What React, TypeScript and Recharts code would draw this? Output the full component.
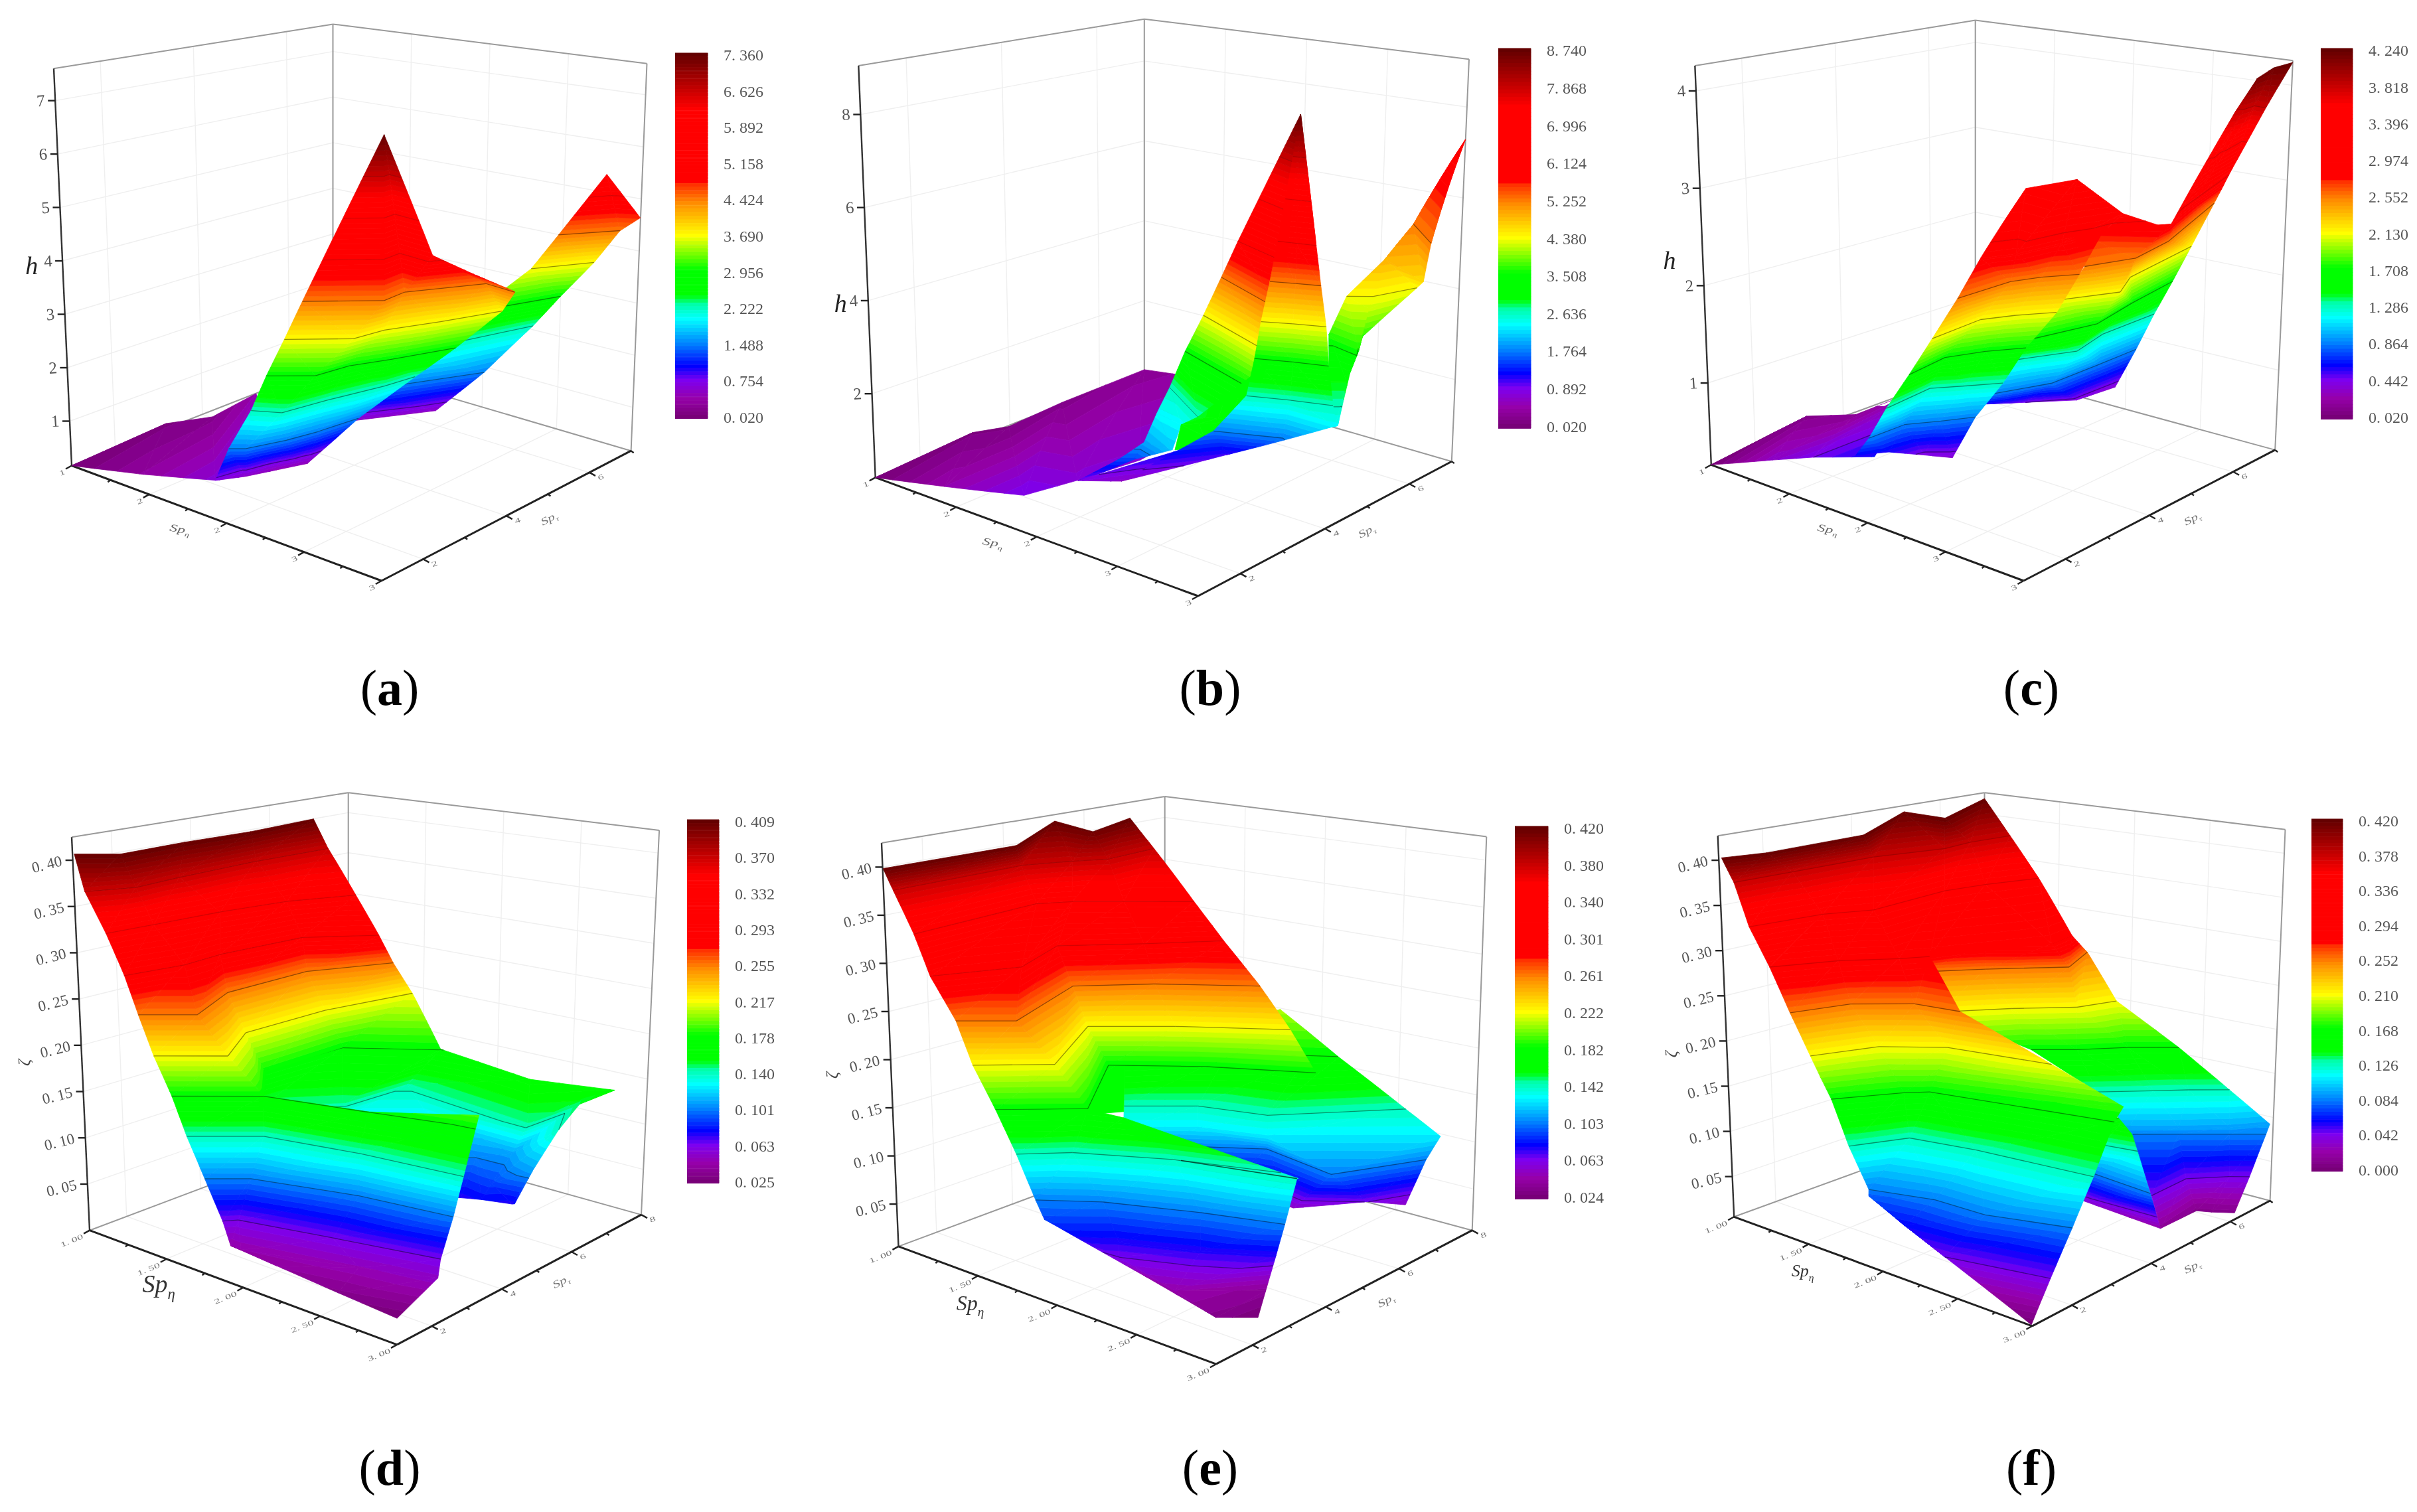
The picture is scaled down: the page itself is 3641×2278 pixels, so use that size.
import React from 'react';
import { ScatterChart, Scatter, XAxis, YAxis, BarChart, Bar, Cell } from 'recharts';

// surface sheets, back to front: rows of [Sp_eta, Sp_tau, value]
const sheetsA = [
  [
    [[0.933,1.23,0.02],[0.92,3.45,0.09],[1.059,4.03,0.17],[1.103,4.88,0.39]],
    [[0.933,1.23,0.02],[1.38,1.3,0.31],[1.817,1.41,0.61],[1.43,3.88,0.75]],
  ],
  [
    [[1.654,4.14,0.53],[2.007,5.88,0.53]],
    [[1.988,4.26,1.49],[2.292,5.99,1.49]],
    [[2.166,4.69,2.22],[2.396,6.74,2.22]],
    [[2.397,5.39,2.96],[2.586,6.69,2.96]],
    [[2.57,6.04,3.69],[2.76,6.82,3.69]],
    [[2.726,6.09,4.42],[2.933,6.77,4.42]],
    [[2.933,6.42,5.6],[3.048,6.82,4.72]],
  ],
  [
    [[1.851,1.29,0.68],[1.857,1.98,0.53],[1.882,2.6,0.46],[1.922,2.94,0.46],[1.942,3.11,0.46]],
    [[2.017,1.03,1.49],[2.077,1.21,1.49],[2.15,1.9,1.49],[2.189,2.47,1.49],[2.222,3.31,1.49]],
    [[2.129,1.16,2.22],[2.256,1.41,2.22],[2.308,2.29,2.22],[2.389,3.3,2.22],[2.42,3.91,2.22]],
    [[2.251,1.09,2.96],[2.423,1.59,2.96],[2.452,2.25,2.96],[2.543,2.87,2.96],[2.683,3.91,2.96]],
    [[2.371,1.08,3.69],[2.609,1.8,3.69],[2.638,2.41,3.69],[2.765,3.25,3.69],[2.897,4.2,3.69]],
    [[2.48,1.11,4.42],[2.764,1.95,4.42],[2.752,2.47,4.42],[2.973,3.55,4.42],[3.17,3.49,4.42]],
    [[2.819,1.76,7.36],[2.819,1.76,7.36],[3.004,2.19,5.3],[3.107,2.82,4.86],[3.243,3.2,4.57]],
  ],
];

const sheetsB = [
  [
    [[0.931,1.24,0.02],[0.905,3.51,0.11],[0.975,4.06,0.11],[0.976,5.25,0.19],[1.003,6.99,0.28],[1.236,7.05,0.37]],
    [[0.931,1.24,0.02],[1.399,1.12,0.46],[1.901,1.09,0.89],[1.901,2.31,0.72],[1.96,3.52,0.72],[1.968,4.08,0.8]],
  ],
  [
    [[3.039,3.89,2.37],[3.063,3.95,2.37],[3.064,4.01,2.37]],
    [[2.9,4.4,2.98],[2.969,4.55,2.98],[2.982,4.58,3.16]],
    [[2.775,4.84,3.68],[3.01,4.66,3.6],[2.928,5.05,3.68]],
    [[2.791,5.17,4.38],[2.927,5.2,4.21],[2.988,6.06,4.38]],
    [[2.809,5.96,4.9],[2.809,5.96,4.9],[3.072,5.89,4.64]],
    [[2.716,6.93,5.25],[2.716,6.93,5.25],[2.998,6.31,5.25]],
    [[2.44,9.03,6.3],[2.44,9.03,6.3],[2.44,9.03,6.3]],
  ],
  [
    [[1.969,2.07,0.89],[1.988,2.23,0.89]],
    [[2.181,2.23,1.5],[2.235,2.38,1.5]],
    [[2.307,2.35,1.94],[2.538,2.14,2.11]],
    [[2.281,2.74,2.37],[2.469,2.6,2.37]],
    [[2.214,3.28,2.64],[2.574,2.6,2.64]],
  ],
  [
    [[2.214,3.28,2.64],[2.574,2.6,2.64]],
    [[2.319,3.24,3.51],[2.92,2.58,3.51]],
    [[2.439,3.21,4.38],[3.05,2.49,4.38]],
    [[2.542,3.23,5.25],[3.07,2.57,5.25]],
    [[2.668,3.13,6.12],[3.07,2.73,6.12]],
    [[2.9,3.64,8.74],[2.9,3.64,8.74]],
  ],
  [
    [[2.905,0.82,2.98],[3.13,1.13,3.16]],
    [[2.723,1.65,2.98],[3.08,1.86,3.33]],
    [[2.683,2.19,2.9],[2.66,3.87,3.33]],
  ],
  [
    [[1.935,2.19,0.8],[2.029,2.84,0.63]],
    [[2.278,3.69,1.33],[2.326,3.81,1.24]],
  ],
  [
    [[2.029,2.84,0.63],[2.369,4.01,1.07],[3.059,4,2.37]],
    [[2.393,3.62,1.76],[2.714,4.04,1.76],[3.057,4,2.37]],
    [[2.571,3.72,2.64],[2.773,3.98,2.64],[2.984,4.19,2.64]],
    [[2.64,3.64,3.51],[2.815,3.87,3.51],[2.99,4.05,3.51]],
    [[2.712,3.51,4.38],[2.851,3.72,4.38],[3.006,3.91,4.38]],
    [[2.763,3.51,5.25],[2.88,3.66,5.25],[2.998,3.8,5.25]],
    [[2.813,3.49,6.12],[2.906,3.57,6.12],[3.002,3.66,6.12]],
    [[2.9,3.64,8.74],[2.9,3.64,8.74],[2.9,3.64,8.74]],
  ],
];

const sheetsC = [
  [
    [[0.88,1.41,0.02],[0.818,3.8,0.1],[1.016,4.23,0.15],[1.07,5.47,0.23]],
    [[0.88,1.41,0.02],[1.294,1.36,0.32],[1.508,1.53,0.44],[1.86,1.69,0.61]],
  ],
  [
    [[1.754,4.62,0.57],[1.779,5.47,0.44],[1.921,6.14,0.4],[1.918,7.04,0.36]],
    [[1.945,4.12,0.86],[2.067,5.03,0.86],[2.073,6.12,0.86],[2.072,6.96,0.86]],
    [[2.093,4.11,1.29],[2.243,4.98,1.29],[2.175,5.81,1.29],[2.175,7,1.29]],
    [[2.353,3.59,1.71],[2.449,4.7,1.71],[2.374,5.78,1.71],[2.31,6.92,1.71]],
    [[2.484,3.75,2.13],[2.63,4.56,2.13],[2.516,5.2,2.13],[2.424,6.92,2.13]],
    [[2.661,3.62,2.55],[2.768,4.39,2.55],[2.716,5.33,2.55],[2.463,7.27,2.55]],
    [[2.5,3.92,2.81],[2.901,4.71,2.89],[2.854,5.16,2.97],[2.694,6.82,3.06]],
    [[2.901,4.71,2.89],[2.854,5.16,2.97],[2.78,5.8,3.02],[2.694,6.82,3.06]],
    [[2.869,6.24,3.82],[2.891,6.34,3.82],[2.889,6.58,3.82],[2.965,6.56,3.82]],
    [[2.967,6.33,4.16],[2.967,6.33,4.16],[2.94,6.79,4.2],[3,7,4.24]],
  ],
  [
    [[1.782,1.54,0.61],[1.835,2.11,0.57],[1.842,2.9,0.4],[1.933,3.22,0.36]],
    [[1.901,1.42,0.86],[1.905,2.22,0.86],[2.001,2.69,0.86],[2.092,3.18,0.86]],
    [[2.081,1.19,1.29],[2.051,2.29,1.29],[2.154,2.73,1.29],[2.266,3.2,1.29]],
    [[2.247,1.12,1.71],[2.213,2.06,1.71],[2.298,2.68,1.71],[2.414,3.19,1.71]],
    [[2.399,1.1,2.13],[2.385,2.25,2.13],[2.471,2.75,2.13],[2.592,3.24,2.13]],
    [[2.525,1.22,2.55],[2.543,2.37,2.55],[2.61,2.82,2.55],[2.721,3.28,2.55]],
    [[2.554,1.64,2.89],[2.635,2.15,2.89],[2.689,2.99,2.89],[2.727,3.77,2.89]],
    [[2.369,3.33,3.27],[2.604,3.63,3.4],[2.78,4.04,3.06],[2.937,4.52,2.89]],
  ],
];

const sheetsD = [
  [
    [[1.651,2.97,0.179],[1.687,5.1,0.179],[2.084,6.09,0.179],[2.651,6.18,0.167],[3.046,6.88,0.159]],
    [[1.693,2.81,0.144],[1.957,3.95,0.144],[2,5.54,0.144],[2.875,5.18,0.144],[2.932,6.53,0.152]],
    [[1.862,3.96,0.133],[1.941,4.46,0.129],[2.196,5.21,0.129],[2.779,5.18,0.109],[3.02,5.43,0.14]],
    [[2.505,4.63,0.102],[2.546,4.75,0.102],[2.607,4.91,0.102],[2.799,4.53,0.09],[3.015,4.75,0.109]],
    [[2.658,4.14,0.075],[2.678,4.19,0.075],[2.81,4.21,0.079],[2.939,4.52,0.075],[2.98,4.41,0.079]],
  ],
  [
    [[1.038,0.89,0.409],[1.165,1.54,0.409],[1.158,3.2,0.409],[1.181,4.8,0.409],[1.153,6.51,0.409]],
    [[1.09,0.9,0.371],[1.175,1.86,0.371],[1.152,3.07,0.371],[1.135,5.11,0.371],[1.159,6.85,0.371]],
    [[1.228,0.84,0.332],[1.252,1.97,0.332],[1.282,3.57,0.332],[1.348,5.02,0.332],[1.498,6.21,0.332]],
    [[1.352,0.76,0.294],[1.406,2.1,0.294],[1.386,3.12,0.294],[1.436,5.06,0.294],[1.686,6.05,0.294]],
    [[1.425,0.79,0.255],[1.612,1.56,0.255],[1.449,3.04,0.255],[1.456,5.1,0.255],[1.663,6.53,0.255]],
    [[1.518,0.77,0.217],[1.761,1.72,0.217],[1.566,3.01,0.217],[1.584,5.04,0.217],[1.705,6.87,0.217]],
    [[1.607,0.84,0.179],[1.918,2,0.179],[1.684,3.03,0.179],[1.687,5.1,0.179],[2.084,6.09,0.179]],
  ],
  [
    [[1.607,0.84,0.179],[1.918,2,0.179],[2.452,2.59,0.179],[3.006,3.25,0.19]],
    [[1.687,0.88,0.14],[1.949,1.85,0.14],[2.448,2.32,0.14],[3.053,2.63,0.14]],
    [[1.792,0.89,0.102],[1.951,1.48,0.102],[2.489,2.14,0.102],[3.029,2.46,0.102]],
    [[1.895,0.92,0.063],[1.941,1.15,0.063],[2.432,1.67,0.063],[3.01,2.19,0.063]],
    [[1.969,0.81,0.044],[2.04,0.79,0.044],[2.642,1.48,0.048],[3.058,1.91,0.052]],
    [[1.969,0.81,0.044],[2.263,0.82,0.04],[2.643,0.89,0.033],[2.996,1.02,0.025]],
  ],
];

const sheetsE = [
  [
    [[1.857,7.5,0.21],[1.857,7.5,0.21],[1.857,7.5,0.21],[1.857,7.5,0.21]],
    [[1.565,4.66,0.182],[1.889,5.98,0.182],[2.211,6.79,0.182],[2.342,7.05,0.182]],
    [[1.663,4.24,0.143],[1.93,5.07,0.143],[2.281,5.43,0.143],[2.768,7.06,0.143]],
    [[1.732,3.94,0.127],[1.999,4.78,0.127],[2.339,5.19,0.127],[3.031,6.91,0.127]],
    [[1.769,4.45,0.103],[2.247,5.58,0.103],[2.726,5.28,0.103],[2.978,6.76,0.103]],
    [[2.06,5.27,0.064],[2.441,5.47,0.052],[2.778,6.04,0.064],[2.864,6.72,0.052]],
  ],
  [
    [[1.296,3.31,0.177],[1.52,4.85,0.177]],
    [[1.8,1.19,0.177],[2.045,2.65,0.177]],
  ],
  [
    [[1.304,-0.22,0.42],[1.334,2.97,0.42],[1.037,5.13,0.42],[1.281,5.09,0.416],[1.224,6.24,0.42]],
    [[1.087,0.89,0.38],[1.081,4.1,0.38],[1.173,5.01,0.38],[1.254,5.57,0.38],[1.232,6.81,0.38]],
    [[1.209,0.86,0.341],[1.156,4.16,0.341],[1.239,4.73,0.341],[1.408,5.33,0.341],[1.653,6.1,0.341]],
    [[1.296,0.88,0.301],[1.458,2.52,0.301],[1.301,4.07,0.301],[1.564,5.2,0.301],[1.809,6.23,0.301]],
    [[1.431,0.93,0.262],[1.617,1.7,0.262],[1.394,4.06,0.262],[1.648,5.12,0.262],[2.057,6.14,0.262]],
    [[1.535,0.9,0.222],[1.787,1.96,0.222],[1.484,4.07,0.222],[1.787,5.07,0.222],[2.253,6.13,0.222]],
    [[1.655,0.96,0.182],[1.949,2.12,0.182],[1.574,4.22,0.182],[1.934,5.25,0.182],[2.419,6.13,0.182]],
  ],
  [
    [[1.655,0.96,0.182],[1.949,2.12,0.182],[2.114,2.36,0.178],[2.941,3.47,0.139]],
    [[1.763,1.01,0.143],[1.934,1.76,0.143],[2.355,2.68,0.143],[2.972,3.31,0.143]],
    [[1.877,1.01,0.103],[2.124,1.75,0.103],[2.559,2.49,0.103],[2.969,3,0.103]],
    [[1.965,0.86,0.091],[2.278,1.5,0.075],[2.639,2.15,0.075],[2.952,2.84,0.075]],
    [[1.965,0.86,0.091],[2.299,1.4,0.064],[2.605,1.6,0.044],[2.878,2.88,0.036]],
    [[1.965,0.86,0.091],[2.379,1.74,0.044],[2.862,1.6,0.032],[2.957,2.33,0.024]],
  ],
];

const sheetsF = [
  [
    [[2.887,3.03,0.168],[2.931,3.61,0.168]],
    [[2.736,3.71,0.126],[2.943,3.83,0.126]],
    [[2.58,3.98,0.084],[3.025,3.86,0.084]],
    [[2.373,4.49,0.034],[2.871,4.71,0.021]],
  ],
  [
    [[1.567,3.28,0.294],[1.712,4.56,0.294],[1.968,5.21,0.294],[1.933,5.81,0.294]],
    [[1.37,4.32,0.252],[1.565,5.08,0.252],[1.869,5.98,0.252],[1.739,6.86,0.252]],
    [[1.482,4.3,0.21],[1.709,5.17,0.21],[1.959,5.86,0.21],[2.047,6.49,0.21]],
    [[1.849,5.16,0.168],[2.035,5.6,0.168],[2.225,6.15,0.168],[2.446,6.6,0.168]],
    [[2.187,5.56,0.126],[2.413,6.12,0.126],[2.56,6.46,0.126],[2.743,6.81,0.126]],
    [[2.386,5.61,0.092],[2.607,6.07,0.092],[2.826,6.54,0.092],[2.98,6.99,0.092]],
    [[2.398,5.69,0.084],[2.598,6.11,0.084],[2.826,6.55,0.084],[2.994,6.85,0.084]],
    [[2.708,5.06,0.042],[2.706,5.93,0.042],[2.88,6.38,0.042],[2.973,6.55,0.042]],
    [[2.806,4.95,0.013],[2.772,5.97,0.008],[2.851,6.06,0.008],[2.962,6.24,0.008]],
  ],
  [
    [[1.253,0.18,0.42],[1.303,1.03,0.42],[1.306,3.21,0.42],[1.005,5.17,0.42],[1.272,5.18,0.42],[1.009,6.97,0.42]],
    [[1.074,1.06,0.378],[1.082,2.36,0.378],[1.092,4.17,0.378],[1.187,5.46,0.378],[1.161,6.13,0.378],[1.189,6.94,0.378]],
    [[1.202,0.92,0.336],[1.25,2.44,0.336],[1.355,3.24,0.336],[1.31,5.03,0.336],[1.357,5.8,0.336],[1.458,6.68,0.336]],
    [[1.283,1.07,0.294],[1.42,2.17,0.294],[1.598,2.95,0.294],[1.678,3.38,0.294],[1.968,5.21,0.294],[1.933,5.81,0.294]],
  ],
  [
    [[1.283,1.07,0.294],[1.42,2.17,0.294],[1.598,2.95,0.294],[1.678,3.38,0.294]],
    [[1.429,0.99,0.252],[1.524,2.07,0.252],[1.744,2.78,0.252],[2,2.94,0.252]],
    [[1.54,1.04,0.21],[1.67,2.19,0.21],[1.925,2.9,0.21],[2.506,3.3,0.21]],
    [[1.595,1.07,0.189],[1.754,2.17,0.189],[1.925,2.68,0.189],[2.904,3.6,0.176]],
    [[1.651,1.11,0.168],[1.838,2.16,0.168],[1.924,2.47,0.168],[2.94,3.25,0.168]],
    [[1.784,1.02,0.126],[1.922,1.98,0.126],[2.286,2.27,0.126],[2.99,2.56,0.126]],
    [[1.888,1.1,0.084],[2.221,1.49,0.084],[2.542,1.54,0.084],[2.995,2.02,0.084]],
    [[1.875,1.14,0.076],[2.12,1.1,0.059],[2.4,1.06,0.042],[2.984,1.52,0.042]],
    [[1.875,1.14,0.076],[2.12,1.1,0.059],[2.4,1.06,0.042],[2.946,1.18,0]],
  ],
];

// colour bar labels, bottom to top
const scaleA = [0.02, 0.754, 1.488, 2.222, 2.956, 3.69, 4.424, 5.158, 5.892, 6.626, 7.36];
const scaleB = [0.02, 0.892, 1.764, 2.636, 3.508, 4.38, 5.252, 6.124, 6.996, 7.868, 8.74];
const scaleC = [0.02, 0.442, 0.864, 1.286, 1.708, 2.13, 2.552, 2.974, 3.396, 3.818, 4.24];
const scaleD = [0.025, 0.063, 0.101, 0.14, 0.178, 0.217, 0.255, 0.293, 0.332, 0.37, 0.409];
const scaleE = [0.024, 0.063, 0.103, 0.142, 0.182, 0.222, 0.261, 0.301, 0.34, 0.38, 0.42];
const scaleF = [0, 0.042, 0.084, 0.126, 0.168, 0.21, 0.252, 0.294, 0.336, 0.378, 0.42];

const heightTicksA = [1, 2, 3, 4, 5, 6, 7];
const heightTicksB = [2, 4, 6, 8];
const heightTicksC = [1, 2, 3, 4];
const ratioTicks = [0.05, 0.1, 0.15, 0.2, 0.25, 0.3, 0.35, 0.4];

const etaTicks = [1, 1.5, 2, 2.5, 3];
const etaMinor = [1.25, 1.75, 2.25, 2.75];
const tauTicks = [2, 4, 6, 8];
const tauMinor = [3, 5, 7];

const captions = ['a', 'b', 'c', 'd', 'e', 'f'];

const FONT = '"Liberation Serif", serif';

// colour ramp of the bars: [level, r, g, b]
const ramp = [
  [0, 120, 0, 120], [0.05, 150, 0, 170], [0.1, 125, 0, 240], [0.14, 0, 0, 255], [0.2, 0, 128, 255],
  [0.27, 0, 255, 255], [0.31, 0, 255, 170], [0.335, 0, 255, 0], [0.405, 0, 255, 0], [0.5, 255, 255, 0],
  [0.59, 255, 140, 0], [0.64, 255, 50, 0], [0.65, 255, 0, 0], [0.85, 255, 0, 0], [0.92, 180, 0, 0], [1, 100, 0, 0],
];

function rampColor(t: number) {
  for (let i = 1; i < ramp.length; i++) {
    if (t <= ramp[i][0]) {
      const a = ramp[i - 1], b = ramp[i];
      const f = (t - a[0]) / (b[0] - a[0]);
      return `rgb(${[1, 2, 3].map((c) => Math.round(a[c] + (b[c] - a[c]) * f)).join(',')})`;
    }
  }
  return 'rgb(100,0,0)';
}

const panels = [
  { id: 0, left: 0, top: 0, w: 1210, sx: 1.296, L: [140, 1100], F: [745, 1372], R: [1232, 1065], B: [650, 858], Lt: [105, 162], Bt: [650, 57], Rt: [1263, 150], lo: 0.167, hi: 7.6, tauMax: 7, sheets: sheetsA, scale: scaleA, zTicks: heightTicksA, z2: false, bar: [1017, 80, 1066, 631], etaTitle: [350, 1258], tauTitle: [1075, 1232], zTitle: [62, 632], etaSize: 24 },
  { id: 1, left: 1230, top: 0, w: 1210, sx: 1.296, L: [115, 1128], F: [745, 1408], R: [1240, 1090], B: [640, 880], Lt: [82, 155], Bt: [640, 45], Rt: [1274, 140], lo: 0.2, hi: 9.05, tauMax: 7, sheets: sheetsB, scale: scaleB, zTicks: heightTicksB, z2: false, bar: [2257, 73, 2306, 645], etaTitle: [343, 1290], tauTitle: [1077, 1262], zTitle: [47, 722], etaSize: 24 },
  { id: 2, left: 2440, top: 0, w: 1200, sx: 1.3067, L: [180, 1098], F: [795, 1372], R: [1290, 1063], B: [700, 870], Lt: [148, 155], Bt: [700, 48], Rt: [1325, 143], lo: 0.16, hi: 4.26, tauMax: 7, sheets: sheetsC, scale: scaleC, zTicks: heightTicksC, z2: false, bar: [3496, 73, 3544, 631], etaTitle: [408, 1258], tauTitle: [1130, 1232], zTitle: [98, 620], etaSize: 24 },
  { id: 3, left: 0, top: 1170, w: 1210, sx: 1.296, L: [175, 1072], F: [775, 1342], R: [1252, 1035], B: [680, 842], Lt: [140, 143], Bt: [680, 38], Rt: [1287, 127], lo: 0, hi: 0.425, tauMax: 8, sheets: sheetsD, scale: scaleD, zTicks: ratioTicks, z2: true, bar: [1035, 1235, 1083, 1783], etaTitle: [310, 1218], tauTitle: [1098, 1200], zTitle: [58, 660], etaSize: 38 },
  { id: 4, left: 1230, top: 1170, w: 1210, sx: 1.296, L: [160, 1110], F: [780, 1388], R: [1280, 1072], B: [680, 876], Lt: [127, 157], Bt: [680, 47], Rt: [1308, 142], lo: 0.006, hi: 0.425, tauMax: 8, sheets: sheetsE, scale: scaleE, zTicks: ratioTicks, z2: true, bar: [2282, 1245, 2332, 1806], etaTitle: [300, 1260], tauTitle: [1115, 1245], zTitle: [42, 690], etaSize: 32 },
  { id: 5, left: 2440, top: 1170, w: 1200, sx: 1.3067, L: [225, 1040], F: [812, 1298], R: [1280, 1002], B: [718, 825], Lt: [193, 140], Bt: [718, 38], Rt: [1310, 125], lo: 0.0055, hi: 0.427, tauMax: 7, sheets: sheetsF, scale: scaleF, zTicks: ratioTicks, z2: true, bar: [3482, 1234, 3529, 1765], etaTitle: [360, 1180], tauTitle: [1130, 1165], zTitle: [112, 640], etaSize: 26 },
];

const SY = 1.568;
type Panel = (typeof panels)[number];
type Item = { pts: number[][]; fill?: string; stroke?: string; width?: number };

const mix = (a: number[], b: number[], t: number) => [a[0] + (b[0] - a[0]) * t, a[1] + (b[1] - a[1]) * t];

// 3D -> 2D through the corners of the box, in the panel's own pixels
function project(p: Panel, eta: number, tau: number, val: number) {
  const u = (eta - 1) / 2;
  const v = (tau - 1) / (p.tauMax - 1);
  const w = (val - p.lo) / (p.hi - p.lo);
  const off = (a: number[], b: number[]) => [a[0] - b[0], a[1] - b[1]];
  const oL = off(p.Lt, p.L), oB = off(p.Bt, p.B), oR = off(p.Rt, p.R);
  const oF = [oL[0] + oR[0] - oB[0], oL[1] + oR[1] - oB[1]];
  const f = mix(mix(p.L, p.F, u), mix(p.B, p.R, u), v);
  const o = mix(mix(oL, oF, u), mix(oB, oR, u), v);
  return [(f[0] + o[0] * w) / p.sx, (f[1] + o[1] * w) / SY];
}

// clip a triangle to one colour band
function clipBand(tri: number[][], lo: number, hi: number, min: number, span: number) {
  const level = (q: number[]) => (q[2] - min) / span;
  const cut = (poly: number[][], keep: (t: number) => boolean, edge: number) => {
    const out: number[][] = [];
    poly.forEach((a, i) => {
      const b = poly[(i + 1) % poly.length];
      const ta = level(a), tb = level(b);
      if (keep(ta)) out.push(a);
      if (keep(ta) !== keep(tb)) {
        const f = (edge - ta) / (tb - ta);
        out.push(a.map((c, k) => c + (b[k] - c) * f));
      }
    });
    return out;
  };
  return cut(cut(tri, (t) => t >= lo, lo), (t) => t <= hi, hi);
}

function contourSegment(tri: number[][], edge: number, min: number, span: number) {
  const pts: number[][] = [];
  tri.forEach((a, i) => {
    const b = tri[(i + 1) % 3];
    const ta = (a[2] - min) / span, tb = (b[2] - min) / span;
    if ((ta < edge && tb >= edge) || (tb < edge && ta >= edge)) {
      const f = (edge - ta) / (tb - ta);
      pts.push(a.map((c, k) => c + (b[k] - c) * f));
    }
  });
  return pts.length === 2 ? pts : null;
}

const BANDS = 80;

function surfaceItems(p: Panel) {
  const min = p.scale[0];
  const span = p.scale[p.scale.length - 1] - min;
  const items: Item[] = [];
  p.sheets.forEach((sheet: number[][][]) => {
    const tris: number[][][] = [];
    for (let r = 0; r < sheet.length - 1; r++) {
      for (let c = 0; c < sheet[r].length - 1; c++) {
        tris.push([sheet[r][c], sheet[r][c + 1], sheet[r + 1][c]]);
        tris.push([sheet[r][c + 1], sheet[r + 1][c + 1], sheet[r + 1][c]]);
      }
    }
    tris.forEach((tri) => {
      for (let b = 0; b < BANDS; b++) {
        const poly = clipBand(tri, b / BANDS, (b + 1) / BANDS, min, span);
        if (poly.length < 3) continue;
        const fill = rampColor((b + 0.5) / BANDS);
        items.push({ pts: poly.map((q) => project(p, q[0], q[1], q[2])), fill, stroke: fill, width: 0.8 });
      }
    });
    tris.forEach((tri) => {
      for (let k = 1; k < 10; k++) {
        const seg = contourSegment(tri, k / 10, min, span);
        const stroke = k >= 7 ? 'rgba(0,0,0,0.16)' : 'rgba(0,0,0,0.42)';
        if (seg) items.push({ pts: seg.map((q) => project(p, q[0], q[1], q[2])), stroke, width: 1.3 });
      }
    });
  });
  return items;
}

function frameItems(p: Panel) {
  const items: Item[] = [];
  const T = p.tauMax;
  const floor = p.lo;
  const top = p.hi;
  const line = (a: number[], b: number[], stroke: string, width: number) =>
    items.push({ pts: [project(p, a[0], a[1], a[2]), project(p, b[0], b[1], b[2])], stroke, width });
  const GRID = '#efefef';
  p.zTicks.forEach((z: number) => {
    line([1, 1, z], [1, T, z], GRID, 1.4);
    line([1, T, z], [3, T, z], GRID, 1.4);
  });
  etaTicks.slice(1, -1).forEach((e) => {
    line([e, T, floor], [e, T, top], GRID, 1.4);
    line([e, 1, floor], [e, T, floor], GRID, 1.4);
  });
  tauTicks.filter((t) => t < T).forEach((t) => {
    line([1, t, floor], [1, t, top], GRID, 1.4);
    line([1, t, floor], [3, t, floor], GRID, 1.4);
  });
  const EDGE = '#9a9a9a';
  line([1, T, floor], [1, T, top], EDGE, 2);
  line([3, T, floor], [3, T, top], EDGE, 2);
  line([1, 1, top], [1, T, top], EDGE, 2);
  line([1, T, top], [3, T, top], EDGE, 2);
  line([1, 1, floor], [1, T, floor], EDGE, 2);
  line([1, T, floor], [3, T, floor], EDGE, 2);
  line([1, 1, floor], [1, 1, top], '#333', 2.4);
  line([1, 1, floor], [3, 1, floor], '#222', 3);
  line([3, 1, floor], [3, T, floor], '#222', 3);
  return items;
}

type Mark = {
  x: number; y: number; stub?: number[]; text?: string; sub?: string; dx?: number; dy?: number;
  rot?: number; squash?: number; size?: number; anchor?: string; color?: string; italic?: boolean;
};

function markItems(p: Panel) {
  const marks: Mark[] = [];
  const T = p.tauMax;
  const at = (q: number[]) => ({ x: q[0], y: q[1] });
  const floor = p.lo;
  const smallEta = !p.z2;
  etaTicks.forEach((e) => {
    marks.push({
      ...at(project(p, e, 1, floor)), stub: [-9, 5],
      text: smallEta ? String(Math.round(e + 0.001)) : e.toFixed(2).replace('.', '. '),
      dx: -9, dy: 12, rot: -22, squash: 0.6, size: 18, anchor: 'end', color: '#777',
    });
  });
  etaMinor.forEach((e) => marks.push({ ...at(project(p, e, 1, floor)), stub: [-4, 3] }));
  tauTicks.filter((t) => t <= T).forEach((t) => {
    marks.push({
      ...at(project(p, 3, t, floor)), stub: [9, 5], text: String(t),
      dx: 14, dy: 12, rot: -20, squash: 0.6, size: 18, anchor: 'start', color: '#777',
    });
  });
  tauMinor.filter((t) => t <= T).forEach((t) => marks.push({ ...at(project(p, 3, t, floor)), stub: [4, 3] }));
  p.zTicks.forEach((z: number) => {
    marks.push({
      ...at(project(p, 1, 1, z)), stub: [-11, 0],
      text: p.z2 ? z.toFixed(2).replace('.', '. ') : String(z),
      dx: -15, dy: 8, rot: p.z2 ? -14 : -4, size: p.z2 ? 23 : 25, anchor: 'end', color: '#555',
    });
  });
  const title = (q: number[]) => ({ x: q[0] / p.sx, y: q[1] / SY });
  marks.push({
    ...title(p.etaTitle), text: 'Sp', sub: 'η', rot: p.z2 ? 0 : 10, squash: p.z2 ? 1 : 0.65,
    size: p.etaSize, anchor: 'middle', color: p.z2 ? '#333' : '#666', italic: true,
  });
  marks.push({
    ...title(p.tauTitle), text: 'Sp', sub: 'τ', rot: -28, squash: 0.7,
    size: 22, anchor: 'middle', color: '#777', italic: true,
  });
  marks.push({
    ...title(p.zTitle), text: p.z2 ? 'ζ' : 'h', rot: p.z2 ? -90 : 0,
    size: p.z2 ? 25 : 38, anchor: 'middle', color: p.z2 ? '#444' : '#222', italic: true, dy: 10,
  });
  return marks;
}

const NoDot = () => null;

function MarkShape(props: any) {
  const m: Mark = props.payload;
  const { cx, cy } = props;
  const tx = `translate(${m.dx ?? 0} ${m.dy ?? 0}) rotate(${m.rot ?? 0}) scale(1 ${m.squash ?? 1})`;
  return (
    <g transform={`translate(${cx} ${cy})`}>
      {m.stub && <line x1={0} y1={0} x2={m.stub[0]} y2={m.stub[1]} stroke="#222" strokeWidth={2.4} />}
      {m.text && (
        <text transform={tx} textAnchor={m.anchor as any} fontFamily={FONT} fontSize={m.size} fill={m.color} fontStyle={m.italic ? 'italic' : 'normal'}>
          {m.text}
          {m.sub && <tspan dy={(m.size ?? 20) * 0.28} fontSize={(m.size ?? 20) * 0.6}>{m.sub}</tspan>}
        </text>
      )}
    </g>
  );
}

// draws a list of polygons / lines from the points the Scatter has already scaled
function itemsLayer(items: Item[]) {
  return (lineProps: any) => {
    const points: { x: number; y: number }[] = lineProps.points;
    let pos = 0;
    return (
      <g>
        {items.map((it, i) => {
          const pts = points.slice(pos, pos + it.pts.length);
          pos += it.pts.length;
          const str = pts.map((q) => `${q.x.toFixed(1)},${q.y.toFixed(1)}`).join(' ');
          return it.fill ? (
            <polygon key={i} points={str} fill={it.fill} stroke={it.stroke} strokeWidth={it.width} strokeLinejoin="round" />
          ) : (
            <polyline key={i} points={str} fill="none" stroke={it.stroke} strokeWidth={it.width} />
          );
        })}
      </g>
    );
  };
}

const itemData = (items: Item[]) => items.flatMap((it) => it.pts.map((q) => ({ x: q[0], y: q[1] })));

function SurfacePanel({ p }: { p: Panel }) {
  const width = p.w;
  const height = 1000;
  const frame = frameItems(p);
  const surface = surfaceItems(p);
  const marks = markItems(p);
  return (
    <div style={{ position: 'absolute', left: p.left, top: p.top, filter: 'blur(0.7px)' }}>
      <ScatterChart width={width} height={height} margin={{ top: 0, right: 0, bottom: 0, left: 0 }}>
        <XAxis type="number" dataKey="x" domain={[0, width]} hide />
        <YAxis type="number" dataKey="y" domain={[0, height]} reversed hide />
        <Scatter data={itemData(frame)} line={itemsLayer(frame)} shape={NoDot} isAnimationActive={false} />
        <Scatter data={marks} shape={MarkShape} isAnimationActive={false} />
        <Scatter data={itemData(surface)} line={itemsLayer(surface)} shape={NoDot} isAnimationActive={false} />
      </ScatterChart>
    </div>
  );
}

const BAR_ROWS = 100;
const BAR_PAD = 16;

function ColorBar({ p }: { p: Panel }) {
  const [x0, y0, x1, y1] = p.bar;
  const rows = Array.from({ length: BAR_ROWS + 1 }, (_, i) => ({ k: i, v: 1 }));
  const labels = [...p.scale].reverse();
  const fmt = (k: number) => labels[k / 10].toFixed(3).replace('.', '. ');
  return (
    <div style={{ position: 'absolute', left: x0, top: y0 - BAR_PAD, filter: 'blur(0.7px)' }}>
      <BarChart layout="vertical" width={x1 - x0 + 130} height={y1 - y0 + BAR_PAD * 2} data={rows} barCategoryGap={0} margin={{ top: BAR_PAD, right: 0, bottom: BAR_PAD, left: 0 }}>
        <XAxis type="number" domain={[0, 1]} hide />
        <YAxis
          type="category" dataKey="k" orientation="right" width={130} interval={9}
          axisLine={false} tickLine={false} tickMargin={18} tickFormatter={fmt}
          tick={{ fontFamily: FONT, fontSize: 24, fill: '#555' }}
        />
        <Bar dataKey="v" isAnimationActive={false}>
          {rows.map((r) => {
            const c = rampColor(1 - r.k / BAR_ROWS);
            return <Cell key={r.k} fill={c} stroke={c} strokeWidth={1} />;
          })}
        </Bar>
      </BarChart>
    </div>
  );
}

export default function App() {
  return (
    <div style={{ position: 'absolute', left: 0, top: 0, width: 3641, height: 2278, background: '#fff', overflow: 'hidden' }}>
      {panels.map((p) => <SurfacePanel key={p.id} p={p} />)}
      {panels.map((p) => <ColorBar key={p.id} p={p} />)}
      {captions.map((c, i) => (
        <div key={c} style={{
          position: 'absolute', width: 200, textAlign: 'center', left: [1823, 3060, 587][(i + 2) % 3] - 100,
          top: i < 3 ? 990 : 2165, fontFamily: FONT, fontSize: 76, lineHeight: '92px', color: '#000',
        }}>
          (<b>{c}</b>)
        </div>
      ))}
    </div>
  );
}
